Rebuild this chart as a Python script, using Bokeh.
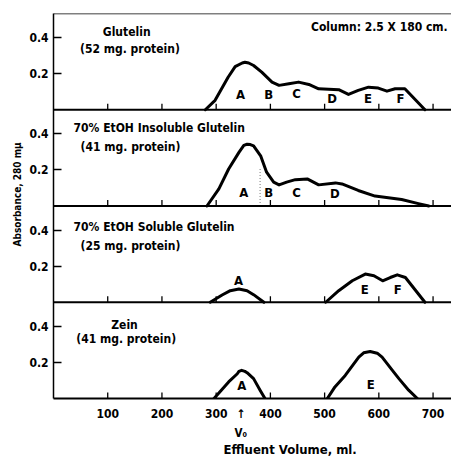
from bokeh.plotting import figure
from bokeh.models import Range1d, FixedTicker, Span, Label, Title, ColumnDataSource
from bokeh.core.properties import value
from bokeh.embed import file_html
from bokeh.resources import INLINE

# ---------------- data ----------------
glutelin_x = [280, 298, 322, 335, 348, 353, 360, 369, 384, 403, 416, 434, 452, 471, 489, 526, 544, 562, 581, 599, 615, 630, 648, 685]
glutelin_y = [0.0, 0.052, 0.18, 0.239, 0.259, 0.263, 0.259, 0.245, 0.208, 0.153, 0.135, 0.144, 0.153, 0.14, 0.116, 0.111, 0.085, 0.107, 0.125, 0.12, 0.103, 0.116, 0.116, 0.0]

insol_x = [283, 305, 323, 342, 351, 357, 363, 369, 382, 393, 406, 416, 430, 446, 468, 489, 520, 532, 562, 593, 642, 673, 692]
insol_y = [0.0, 0.095, 0.205, 0.297, 0.336, 0.342, 0.34, 0.333, 0.278, 0.187, 0.132, 0.117, 0.132, 0.146, 0.15, 0.117, 0.128, 0.122, 0.086, 0.055, 0.036, 0.013, 0.0]

sol_a_x = [289, 311, 326, 342, 357, 369, 388]
sol_a_y = [0.0, 0.04, 0.064, 0.073, 0.064, 0.042, 0.0]
sol_ef_x = [502, 526, 551, 575, 591, 607, 621, 634, 649, 685]
sol_ef_y = [0.0, 0.064, 0.119, 0.156, 0.147, 0.119, 0.137, 0.152, 0.137, 0.0]

zein_a_x = [296, 323, 339, 342, 347, 353, 357, 369, 381, 390]
zein_a_y = [0.0, 0.092, 0.137, 0.15, 0.156, 0.15, 0.143, 0.11, 0.046, 0.0]
zein_e_x = [505, 519, 538, 563, 572, 584, 597, 606, 625, 637, 655, 671]
zein_e_y = [0.0, 0.064, 0.128, 0.229, 0.253, 0.26, 0.251, 0.229, 0.156, 0.11, 0.046, 0.0]

x_ticks = [100, 200, 300, 400, 500, 600, 700]
y_ticks = [0.2, 0.4]

glutelin_peaks = ["A", "B", "C", "D", "E", "F"]
glutelin_peak_x = [345, 397, 448, 514, 580, 640]
glutelin_peak_y = [0.086, 0.086, 0.09, 0.062, 0.062, 0.062]

insol_peaks = ["A", "B", "C", "D"]
insol_peak_x = [351, 397, 448, 519]
insol_peak_y = [0.074, 0.074, 0.076, 0.067]
insol_split_x = [381]
insol_split_y = [0.21]

sol_peaks = ["A", "E", "F"]
sol_peak_x = [341, 574, 635]
sol_peak_y = [0.12, 0.07, 0.07]

zein_peaks = ["A", "E"]
zein_peak_x = [347, 585]
zein_peak_y = [0.07, 0.075]

void_volume = 346

# ---------------- layout constants ----------------
FONT = "DejaVu Sans Condensed"
SPAN = 0.533          # absorbance units per panel
NP = 4
TICK_H = 0.033

p = figure(width=451, height=456, x_range=Range1d(0, 734), y_range=Range1d(0, NP * SPAN),
           output_backend="svg", toolbar_location=None,
           min_border_left=53, min_border_right=0, min_border_top=13, min_border_bottom=55)
p.outline_line_color = None
p.xgrid.grid_line_color = None
p.ygrid.grid_line_color = None

# panel ranges: panel k (0 = bottom) has its baseline k*SPAN above the frame bottom
names = ["default", "soluble", "insoluble", "glutelin"]
for k, nm in enumerate(names):
    if k > 0:
        p.extra_y_ranges[nm] = Range1d(-k * SPAN, (NP - k) * SPAN)

# x axis: tick labels plus the void-volume arrow in the same row
xa = p.xaxis[0]
xa.ticker = FixedTicker(ticks=x_ticks + [void_volume])
xa.major_label_overrides = {void_volume: "\u2191"}
xa.major_tick_line_color = None
xa.minor_tick_line_color = None
xa.axis_line_width = 2
xa.major_label_standoff = 2
xa.major_label_text_font = FONT
xa.major_label_text_font_style = "bold"
xa.major_label_text_font_size = "12px"
xa.major_label_text_color = "black"

ya = p.yaxis[0]
ticks = []
overrides = {}
for k in range(NP):
    for v in y_ticks:
        t = round(k * SPAN + v, 6)
        ticks.append(t)
        overrides[t] = f"{v:.1f}"
ya.ticker = FixedTicker(ticks=ticks)
ya.major_label_overrides = overrides
ya.major_tick_in = 8
ya.major_tick_out = 0
ya.minor_tick_line_color = None
ya.axis_line_width = 1.5
ya.major_tick_line_width = 1.5
ya.major_label_standoff = 5
ya.major_label_text_font = FONT
ya.major_label_text_font_style = "bold"
ya.major_label_text_font_size = "12px"
ya.major_label_text_color = "black"

# baselines and top line
for nm in names[1:]:
    p.add_layout(Span(location=0, dimension="width", y_range_name=nm, line_color="black", line_width=2))
p.add_layout(Span(location=SPAN, dimension="width", y_range_name="glutelin", line_color="black", line_width=1.5))

# inward x ticks on every panel
for nm in names:
    p.segment(x0=x_ticks, y0=[0] * len(x_ticks), x1=x_ticks, y1=[TICK_H] * len(x_ticks),
              y_range_name=nm, line_color="black", line_width=1.3)

# curves
LW = 3
def curve(xs, ys, nm):
    p.line(xs, ys, y_range_name=nm, line_color="black", line_width=LW, line_join="round", line_cap="round")

curve(glutelin_x, glutelin_y, "glutelin")
curve(insol_x, insol_y, "insoluble")
curve(sol_a_x, sol_a_y, "soluble")
curve(sol_ef_x, sol_ef_y, "soluble")
curve(zein_a_x, zein_a_y, "default")
curve(zein_e_x, zein_e_y, "default")

p.segment(x0=insol_split_x, y0=[0], x1=insol_split_x, y1=insol_split_y, y_range_name="insoluble",
          line_color="#777777", line_width=1, line_dash="1 2")

# peak letters
def letters(txt, xs, ys, nm):
    src = ColumnDataSource(dict(x=xs, y=ys, t=txt))
    p.text(x="x", y="y", text="t", source=src, y_range_name=nm, text_font=value(FONT),
           text_font_style="bold", text_font_size="13px", text_align="center",
           text_baseline="middle", text_color="black")

letters(glutelin_peaks, glutelin_peak_x, glutelin_peak_y, "glutelin")
letters(insol_peaks, insol_peak_x, insol_peak_y, "insoluble")
letters(sol_peaks, sol_peak_x, sol_peak_y, "soluble")
letters(zein_peaks, zein_peak_x, zein_peak_y, "default")

def lab(text, x, y, nm, align="center", size="12px"):
    p.add_layout(Label(x=x, y=y, text=text, y_range_name=nm, text_font=FONT, text_font_style="bold",
                       text_font_size=size, text_align=align, text_baseline="middle",
                       text_color="black"))

lab("Glutelin", 135, 0.428, "glutelin")
lab("(52 mg. protein)", 141, 0.335, "glutelin")
lab("Column: 2.5 X 180 cm.", 727, 0.461, "glutelin", align="right")
lab("70% EtOH Insoluble Glutelin", 37, 0.434, "insoluble", align="left")
lab("(41 mg. protein)", 142, 0.327, "insoluble")
lab("70% EtOH Soluble Glutelin", 37, 0.418, "soluble", align="left")
lab("(25 mg. protein)", 142, 0.31, "soluble")
lab("Zein", 131, 0.409, "default")
lab("(41 mg. protein)", 134, 0.33, "default")

# titles outside the frame (left-aligned, shifted by an offset in pixels)
def title(text, side, offset, standoff, size="12px"):
    p.add_layout(Title(text=text, align="left", offset=offset, standoff=standoff,
                       text_font=FONT, text_font_style="bold", text_font_size=size,
                       text_color="black"), side)

title("Absorbance, 280 m\u03bc", "left", 152, 7, size="10px")
title("V\u2080", "below", 181, 0, size="11.5px")
title("Effluent Volume, ml.", "below", 170, 0, size="13px")

open("out.html", "w").write(file_html(p, INLINE))
